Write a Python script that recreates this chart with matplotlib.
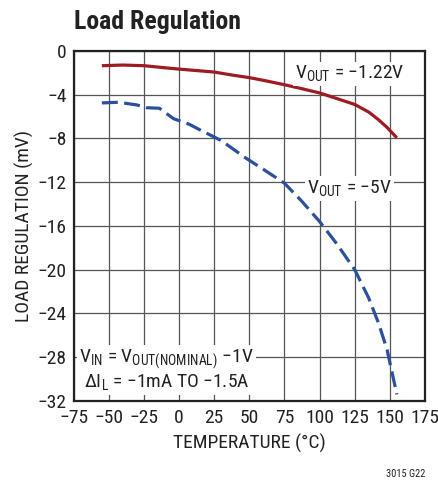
import matplotlib
matplotlib.use("Agg")
import matplotlib.pyplot as plt
from matplotlib import font_manager

# temperature (°C) and load regulation (mV)
temp_122 = [-55, -40, -25, -10, 0, 12, 25, 37, 50, 62, 75, 87, 100, 112, 125, 135, 142, 148, 155]
reg_122 = [-1.36, -1.3, -1.36, -1.55, -1.67, -1.8, -1.94, -2.2, -2.45, -2.75, -3.1, -3.45,
           -3.85, -4.35, -4.9, -5.6, -6.3, -7.0, -7.95]

temp_5 = [-55, -43, -30, -23, -14, -4, 7, 16, 30, 47, 62, 75, 87, 100, 112, 125, 135, 142, 148, 155]
reg_5 = [-4.76, -4.7, -4.95, -5.2, -5.25, -6.2, -6.7, -7.3, -8.2, -9.76, -11.0, -12.1, -13.7,
         -15.6, -17.6, -20.0, -22.6, -24.9, -27.3, -31.4]

x_ticks = [-75, -50, -25, 0, 25, 50, 75, 100, 125, 150, 175]
y_ticks = [0, -4, -8, -12, -16, -20, -24, -28, -32]

names = {f.name for f in font_manager.fontManager.ttflist}
FONT = "Liberation Sans"
for cand in ["Liberation Sans Narrow", "Arial Narrow", "Roboto Condensed", "Open Sans Condensed",
             "DejaVu Sans Condensed", "Noto Sans Condensed"]:
    if cand in names:
        FONT = cand
        break
narrow = FONT != "Liberation Sans"
FS = 14 if narrow else 12

plt.rcParams["font.family"] = [FONT, "DejaVu Sans"]
plt.rcParams["mathtext.fontset"] = "custom"
plt.rcParams["mathtext.rm"] = FONT
plt.rcParams["axes.unicode_minus"] = True

fig = plt.figure(figsize=(4.39, 4.84), dpi=100)
ax = fig.add_axes([0.168, 0.1715, 0.8, 0.7235])

ax.plot(temp_122, reg_122, color="#9e1b22", lw=2.3, solid_capstyle="butt", zorder=3)
ax.plot(temp_5, reg_5, color="#2c4f9e", lw=2.3, dashes=(5, 2), zorder=3)

ax.set_xlim(-75, 175)
ax.set_ylim(-32, 0)
ax.set_xticks(x_ticks)
ax.set_yticks(y_ticks)
ax.set_xticklabels([str(t).replace("-", "\u2212") for t in x_ticks])
ax.set_yticklabels([str(t).replace("-", "\u2212") for t in y_ticks])
ax.tick_params(length=0, labelsize=FS, colors="#222222")
ax.tick_params(axis="x", pad=6)
ax.tick_params(axis="y", pad=5)
ax.grid(True, color="#555555", lw=0.9)
ax.set_axisbelow(True)
for s in ax.spines.values():
    s.set_linewidth(1.6)
    s.set_color("#222222")

ax.set_xlabel("TEMPERATURE (°C)", fontsize=FS, color="#222222", labelpad=5)
ax.set_ylabel("LOAD REGULATION (mV)", fontsize=FS, color="#222222", labelpad=3)

box = dict(facecolor="white", edgecolor="none", pad=1.5)
ax.text(121.5, -2.1, r"V$_{\mathregular{OUT}}$ = −1.22V", fontsize=FS,
        ha="center", va="center", color="#222222", bbox=box, zorder=4)
ax.text(121.5, -12.6, r"V$_{\mathregular{OUT}}$ = −5V", fontsize=FS,
        ha="center", va="center", color="#222222", bbox=box, zorder=4)
ax.text(-71, -28.2, r"V$_{\mathregular{IN}}$ = V$_{\mathregular{OUT(NOMINAL)}}$ −1V",
        fontsize=FS, ha="left", va="center", color="#222222", bbox=box, zorder=4)
ax.text(-67.5, -30.3, r"ΔI$_{\mathregular{L}}$ = −1mA TO −1.5A",
        fontsize=FS, ha="left", va="center", color="#222222", bbox=box, zorder=4)

fig.text(0.168, 0.955, "Load Regulation", fontsize=18.5 if narrow else 16, fontweight="bold",
         ha="left", va="center", color="#222222")
fig.text(0.968, 0.01, "3015 G22", fontsize=7.5, ha="right", va="bottom", color="#222222")

fig.savefig("out.png", dpi=100)
